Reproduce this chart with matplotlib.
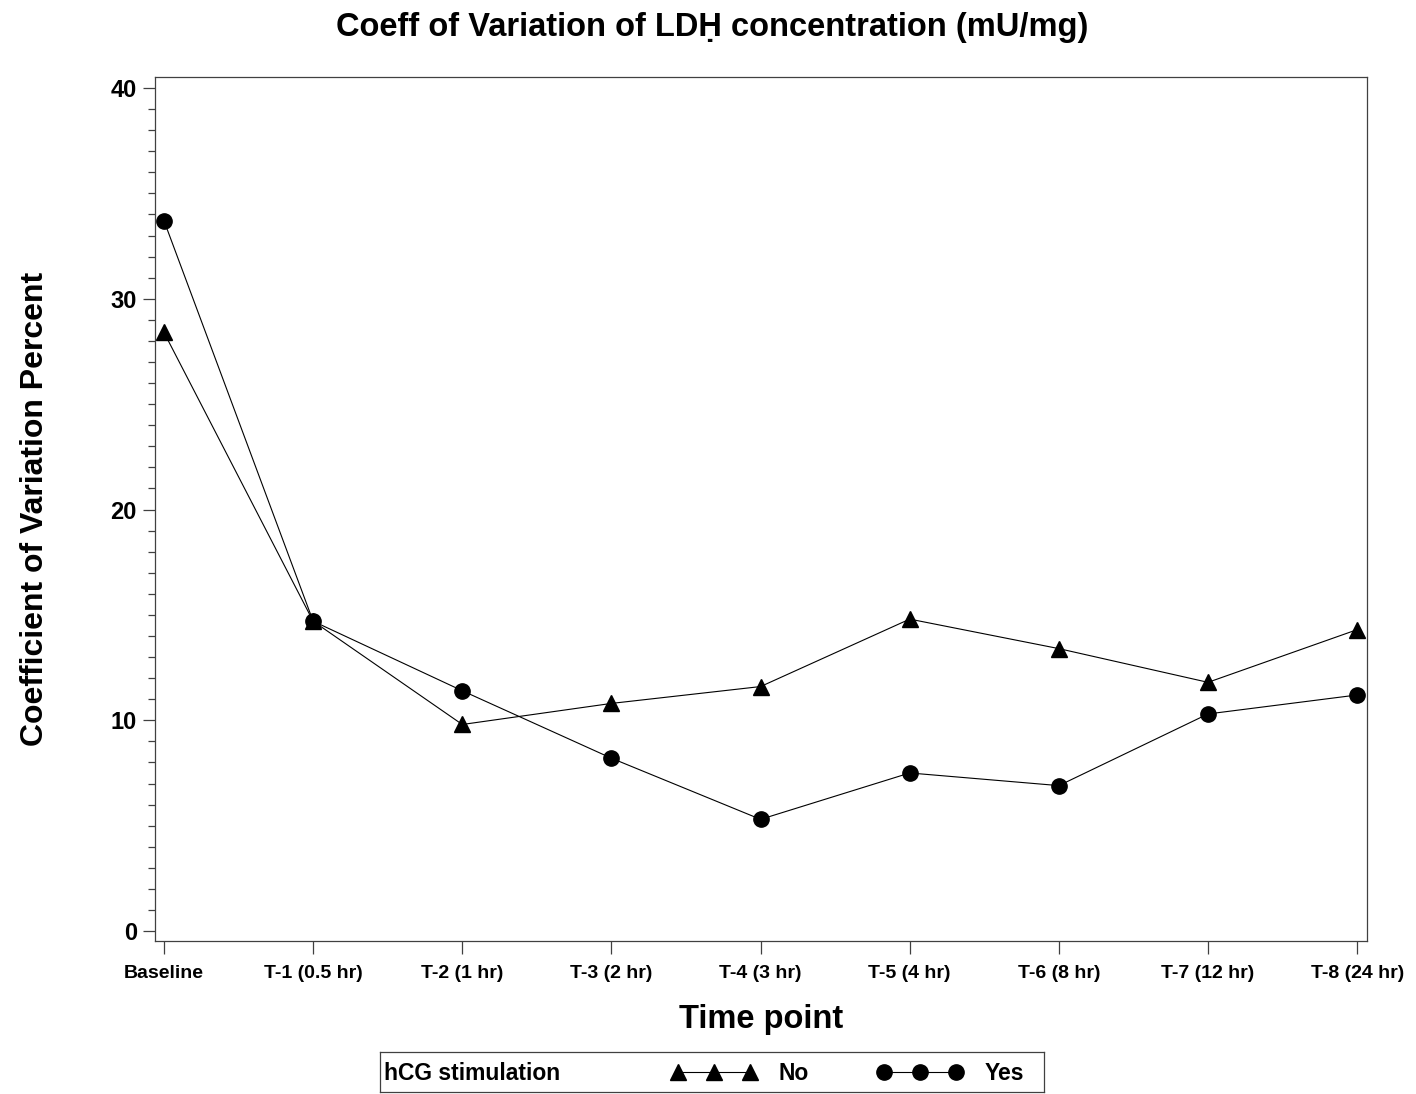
import matplotlib
matplotlib.use("Agg")
import matplotlib.pyplot as plt
from matplotlib.ticker import MultipleLocator

plt.rcParams["font.family"] = ["Liberation Sans", "DejaVu Sans"]

TIME_POINTS = ["Baseline", "T-1 (0.5 hr)", "T-2 (1 hr)", "T-3 (2 hr)", "T-4 (3 hr)",
               "T-5 (4 hr)", "T-6 (8 hr)", "T-7 (12 hr)", "T-8 (24 hr)"]
CV_NO = [28.4, 14.7, 9.8, 10.8, 11.6, 14.8, 13.4, 11.8, 14.3]
CV_YES = [33.7, 14.7, 11.4, 8.2, 5.3, 7.5, 6.9, 10.3, 11.2]

SPINE = "#404040"

fig = plt.figure(figsize=(14.16, 10.94), dpi=100)
ax = fig.add_axes([0.1095, 0.1399, 0.856, 0.7897])

x = list(range(len(TIME_POINTS)))
ax.plot(x, CV_NO, color="black", lw=0.8, marker="^", markersize=11, zorder=3)
ax.plot(x, CV_YES, color="black", lw=0.8, marker="o", markersize=11, zorder=3)

ax.set_xlim(-0.06, len(TIME_POINTS) - 1 + 0.067)
ax.set_ylim(-0.47, 40.52)
ax.set_xticks(x)
ax.set_xticklabels(TIME_POINTS, fontsize=14, fontweight="bold")
ax.yaxis.set_major_locator(MultipleLocator(10))
ax.yaxis.set_minor_locator(MultipleLocator(1))
for lbl in ax.get_yticklabels():
    lbl.set_fontsize(17)
    lbl.set_fontweight("bold")
ax.tick_params(axis="both", which="major", direction="out", length=9, width=0.9,
               color=SPINE, pad=8)
ax.tick_params(axis="y", which="major", pad=4)
ax.tick_params(axis="y", which="minor", direction="out", length=5, width=0.9, color=SPINE)
for s in ax.spines.values():
    s.set_color(SPINE)
    s.set_linewidth(0.9)

ax.set_xlabel("Time point", fontsize=23.5, fontweight="bold", labelpad=16)
ax.set_ylabel("Coefficient of Variation Percent", fontsize=23, fontweight="bold",
              labelpad=44)
fig.text(0.503, 0.975, "Coeff of Variation of LD\u1e24 concentration (mU/mg)",
         ha="center", va="center", fontsize=23.5, fontweight="bold")

# legend strip at the bottom, in pixel-like units
lax = fig.add_axes([380 / 1416, 2 / 1094, 664 / 1416, 40 / 1094])
lax.set_xlim(0, 664)
lax.set_ylim(0, 40)
lax.set_xticks([])
lax.set_yticks([])
for s in lax.spines.values():
    s.set_color(SPINE)
    s.set_linewidth(0.9)
lax.text(4, 19, "hCG stimulation", ha="left", va="center", fontsize=16.5, fontweight="bold")
lax.plot([298, 334, 370], [20, 20, 20], color="black", lw=0.8, marker="^", markersize=11)
lax.text(398, 19, "No", ha="left", va="center", fontsize=16.5, fontweight="bold")
lax.plot([504, 540, 576], [20, 20, 20], color="black", lw=0.8, marker="o", markersize=11)
lax.text(605, 19, "Yes", ha="left", va="center", fontsize=16.5, fontweight="bold")

fig.savefig("out.png", dpi=100)
